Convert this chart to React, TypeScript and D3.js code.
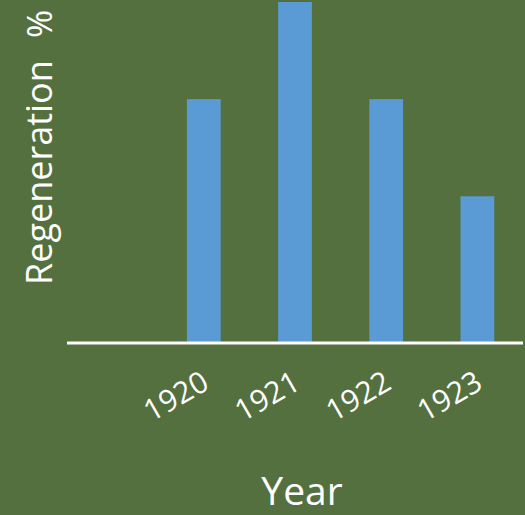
import React from "react";
import * as d3 from "d3";

// Regeneration by year (first slot is an empty category)
const categories: string[] = ["", "1920", "1921", "1922", "1923"];
const regeneration: (number | null)[] = [null, 5, 7, 5, 3];
const yMax = 7;

const W = 525;
const H = 515;
const BG = "#55703f";
const BAR = "#5b9bd5";
const FONT = "'Open Sans', 'DejaVu Sans', sans-serif";

export default function App() {
  const keys = categories.map((c, i) => `${i}`);
  const x = d3
    .scaleBand<string>()
    .domain(keys)
    .range([67, 523])
    .paddingInner(0.63)
    .paddingOuter(0.315);
  const band = d3.scaleBand<string>().domain(keys).range([67, 523]);
  const y = d3.scaleLinear().domain([0, yMax]).range([342, 2]);

  return (
    <svg
      width={W}
      height={H}
      style={{ position: "absolute", left: 0, top: 0, display: "block" }}
    >
      <rect x={0} y={0} width={W} height={H} fill={BG} />
      {regeneration.map((v, i) =>
        v == null ? null : (
          <rect
            key={i}
            x={x(`${i}`)!}
            y={y(v)}
            width={x.bandwidth()}
            height={y(0) - y(v)}
            fill={BAR}
          />
        )
      )}
      <line x1={67} x2={523} y1={343} y2={343} stroke="#ffffff" strokeWidth={3} />
      {categories.map((c, i) => {
        if (!c) return null;
        const cx = band(`${i}`)! + band.bandwidth() / 2;
        return (
          <text
            key={c}
            transform={`translate(${cx + 7},${388}) rotate(-30)`}
            textAnchor="end"
            fill="#ffffff"
            fontFamily={FONT}
            fontSize={30}
          >
            {c}
          </text>
        );
      })}
      <text
        transform="translate(52,285) rotate(-90)"
        fill="#ffffff"
        fontFamily={FONT}
        fontSize={36}
      >
        Regeneration
      </text>
      <text
        transform="translate(52,38) rotate(-90)"
        fill="#ffffff"
        fontFamily={FONT}
        fontSize={34}
      >
        %
      </text>
      <text
        x={302}
        y={505}
        textAnchor="middle"
        fill="#ffffff"
        fontFamily={FONT}
        fontSize={39}
      >
        Year
      </text>
    </svg>
  );
}
